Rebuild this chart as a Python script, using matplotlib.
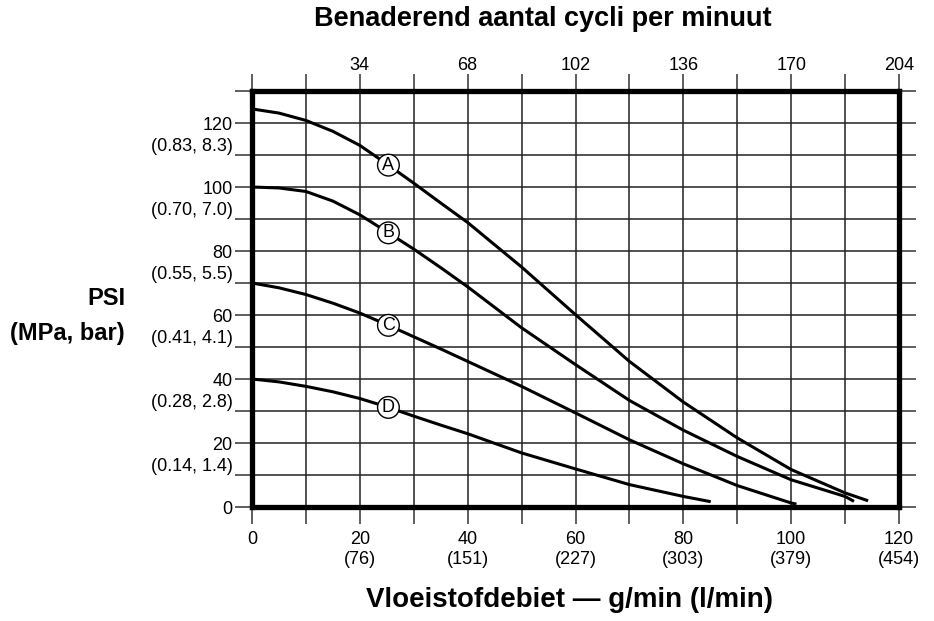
import matplotlib.pyplot as plt
import numpy as np

plt.rcParams['font.family'] = ['Liberation Sans', 'DejaVu Sans']

# curves (gpm, psi)
a_x = [0, 5, 10, 15, 20, 25, 30, 35, 40, 50, 60, 70, 80, 90, 100, 110, 114]
a_y = [124.4, 123.1, 120.8, 117.4, 113.0, 107.2, 101.2, 95.0, 88.9, 75.0, 60.1,
       45.5, 32.8, 21.6, 11.7, 4.4, 2.1]
b_x = [0, 5, 10, 15, 20, 25, 30, 35, 40, 50, 60, 70, 80, 90, 100, 110, 111.4]
b_y = [100.0, 99.7, 98.6, 95.6, 91.3, 86.0, 80.6, 74.8, 68.8, 56.0, 44.5, 33.3,
       24.0, 15.8, 8.5, 3.3, 2.0]
c_x = [0, 5, 10, 15, 20, 25, 30, 35, 40, 50, 60, 70, 80, 90, 100, 100.7]
c_y = [70.0, 68.5, 66.4, 63.7, 60.6, 57.0, 53.2, 49.4, 45.5, 37.7, 29.4, 21.0,
       13.5, 6.7, 1.25, 1.0]
d_x = [0, 5, 10, 15, 20, 25, 30, 35, 40, 50, 60, 70, 80, 84.8]
d_y = [40.0, 39.1, 37.7, 36.0, 33.9, 31.3, 28.4, 25.6, 22.9, 16.9, 11.9, 7.0,
       3.3, 1.75]
curve_names = ['A', 'B', 'C', 'D']

psi_ticks = [0, 20, 40, 60, 80, 100, 120]
mpa_bar_labels = ['(0.14, 1.4)', '(0.28, 2.8)', '(0.41, 4.1)', '(0.55, 5.5)',
                  '(0.70, 7.0)', '(0.83, 8.3)']
gpm_ticks = [0, 20, 40, 60, 80, 100, 120]
lpm_labels = ['', '(76)', '(151)', '(227)', '(303)', '(379)', '(454)']
cycle_ticks = [34, 68, 102, 136, 170, 204]

fig = plt.figure(figsize=(9.34, 6.21), dpi=100)
ax = fig.add_axes([252/934, 114/621, 647/934, 416/621])
ax.set_xlim(0, 120)
ax.set_ylim(0, 130)

# grid every 10 units, extended outside by the ticks
ax.set_xticks(np.arange(0, 121, 10))
ax.set_yticks(np.arange(0, 131, 10))
xlab = []
for v in np.arange(0, 121, 10):
    if v in gpm_ticks:
        i = gpm_ticks.index(v)
        xlab.append(str(v) + ('\n' + lpm_labels[i] if lpm_labels[i] else ''))
    else:
        xlab.append('')
ax.set_xticklabels(xlab, fontsize=13, linespacing=1.25, va='top')
ylab = []
for v in np.arange(0, 131, 10):
    if v in psi_ticks:
        ylab.append(str(v))
    elif v < 120:
        ylab.append(mpa_bar_labels[(v - 10) // 20])
    else:
        ylab.append('')
ax.set_yticklabels(ylab, fontsize=13)
for t, v in zip(ax.get_yticklabels(), np.arange(0, 131, 10)):
    if v not in psi_ticks:
        t.set_va('bottom')

ax.tick_params(axis='both', length=12, width=1.1, color='#333333', pad=2,
               right=True, top=True, direction='out')
ax.tick_params(axis='x', pad=5)
ax.grid(True, color='#222222', linewidth=1.1)
for s in ax.spines.values():
    s.set_linewidth(3.8)
    s.set_color('black')
    s.set_zorder(4)

top = ax.secondary_xaxis('top', functions=(lambda g: g * 1.7, lambda c: c / 1.7))
top.set_xticks(cycle_ticks)
top.tick_params(length=0, labelsize=13, pad=12)
top.spines['top'].set_visible(False)

for xs, ys, name in zip([a_x, b_x, c_x, d_x], [a_y, b_y, c_y, d_y], curve_names):
    ax.plot(xs, ys, color='black', linewidth=2.2, zorder=3,
            solid_joinstyle='round')
    ly = np.interp(25.3, xs, ys)
    ax.text(25.3, ly, name, fontsize=13, ha='center', va='center', zorder=5,
            bbox=dict(boxstyle='circle,pad=0.13', fc='white', ec='black', lw=1.0))

fig.text(543/934, 1 - 19/621, 'Benaderend aantal cycli per minuut', ha='center',
         va='center', fontsize=19.5, fontweight='bold')
fig.text(570/934, 1 - 600/621, 'Vloeistofdebiet \u2014 g/min (l/min)', ha='center',
         va='center', fontsize=20, fontweight='bold')
fig.text(125/934, 1 - 299/621, 'PSI', ha='right', va='center', fontsize=17,
         fontweight='bold')
fig.text(125/934, 1 - 333/621, '(MPa, bar)', ha='right', va='center', fontsize=17,
         fontweight='bold')

fig.savefig('out.png', dpi=100)
